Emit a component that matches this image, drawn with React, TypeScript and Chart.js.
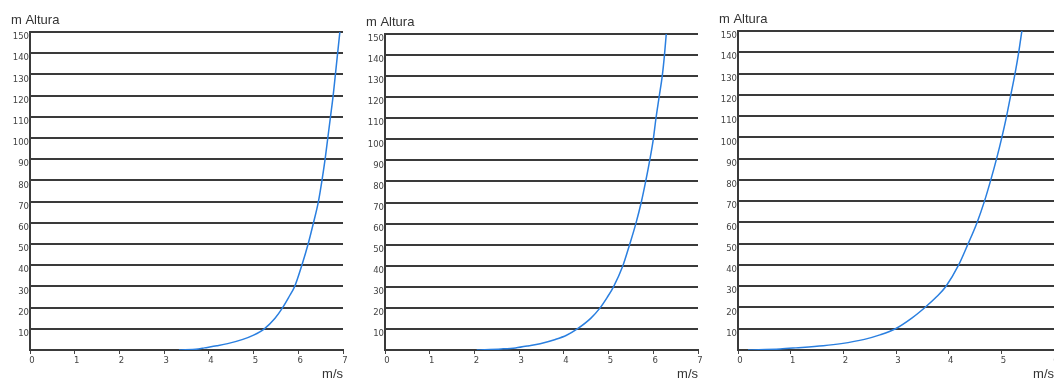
import React, { useEffect, useRef } from "react";
import { Chart, registerables } from "chart.js";

Chart.register(...registerables);

// Heights (m) shared by the three profiles
const heights = [0, 0.5, 1, 2, 3, 5, 7, 10, 15, 20, 25, 30, 40, 50, 60, 70, 80, 90, 100, 110, 120, 130, 140, 150];
// Wind speed (m/s) at each height, per panel
const speedsA = [3.33, 3.76, 3.9, 4.18, 4.42, 4.76, 5.0, 5.24, 5.48, 5.65, 5.79, 5.92, 6.08, 6.22, 6.34, 6.45, 6.53, 6.6, 6.66, 6.72, 6.78, 6.83, 6.88, 6.93];
const speedsB = [2.05, 2.6, 2.92, 3.22, 3.47, 3.81, 4.06, 4.3, 4.6, 4.81, 4.97, 5.11, 5.32, 5.47, 5.61, 5.73, 5.83, 5.92, 6.0, 6.06, 6.13, 6.2, 6.25, 6.29];
const speedsC = [0.19, 0.8, 1.1, 1.62, 1.96, 2.4, 2.68, 2.99, 3.3, 3.55, 3.77, 3.95, 4.19, 4.37, 4.54, 4.68, 4.8, 4.91, 5.01, 5.1, 5.18, 5.26, 5.33, 5.39];

const yTitle = "m Altura";
const xTitle = "m/s";
const yMax = 150;
const yStep = 10;

const PAGE_W = 1054;
const PAGE_H = 379;
const Y_AXIS_W = 30;
const PAD_R = 12;

type PanelProps = {
  left: number;
  right: number;
  top: number;
  bottom: number;
  xMax: number;
  speeds: number[];
};

const textPlugin = {
  id: "panelTexts",
  afterDraw(chart: any) {
    const { ctx, chartArea } = chart;
    ctx.save();
    ctx.fillStyle = "#333";
    ctx.font = "13px 'Liberation Sans', Arial, sans-serif";
    ctx.textBaseline = "middle";
    ctx.textAlign = "left";
    ctx.fillText(yTitle, chartArea.left - 19, chartArea.top - 12);
    ctx.textAlign = "right";
    ctx.fillText(xTitle, chartArea.right, 374);
    ctx.restore();
  },
};

const tickFont = { family: "'DejaVu Sans', 'Liberation Sans', sans-serif", size: 8.5 };

function Panel({ left, right, top, bottom, xMax, speeds }: PanelProps) {
  const ref = useRef<HTMLCanvasElement | null>(null);
  const cw = right - left + Y_AXIS_W + PAD_R;

  useEffect(() => {
    if (!ref.current) return;
    const points = heights.map((h, i) => ({ x: speeds[i], y: h }));
    const chart = new Chart(ref.current, {
      type: "line",
      data: {
        datasets: [
          {
            data: points,
            borderColor: "#2a7fe0",
            borderWidth: 1.5,
            pointRadius: 0,
            cubicInterpolationMode: "monotone",
            fill: false,
          },
        ],
      },
      options: {
        responsive: false,
        animation: false,
        devicePixelRatio: 1,
        layout: { padding: { top, left: 0, right: PAD_R, bottom: 0 } },
        plugins: {
          legend: { display: false },
          tooltip: { enabled: false },
          title: { display: false },
        },
        scales: {
          x: {
            type: "linear",
            min: 0,
            max: xMax,
            z: 1,
            afterFit: (s: any) => {
              s.height = PAGE_H - bottom;
            },
            ticks: {
              stepSize: 1,
              color: "#444",
              font: tickFont,
              padding: 2,
              labelOffset: 2,
              maxRotation: 0,
              autoSkip: false,
            },
            grid: {
              drawOnChartArea: false,
              drawTicks: true,
              tickLength: 4,
              color: "#444",
              lineWidth: 1,
            },
            border: { display: true, color: "#3a3a3a", width: 2 },
          },
          y: {
            type: "linear",
            min: 0,
            max: yMax,
            afterFit: (s: any) => {
              s.width = Y_AXIS_W;
            },
            ticks: {
              stepSize: yStep,
              color: "#444",
              font: tickFont,
              padding: 1,
              labelOffset: 5,
              callback: (v: any) => (v === 0 ? "" : String(v)),
            },
            grid: {
              color: "#3a3a3a",
              lineWidth: 2,
              drawTicks: false,
            },
            border: { display: true, color: "#3a3a3a", width: 2 },
          },
        },
      } as any,
      plugins: [textPlugin],
    });
    return () => chart.destroy();
  }, [left, right, top, bottom, xMax, speeds]);

  return (
    <canvas
      ref={ref}
      width={cw}
      height={PAGE_H}
      style={{ position: "absolute", left: left - Y_AXIS_W, top: 0, width: cw, height: PAGE_H }}
    />
  );
}

export default function App() {
  return (
    <div
      style={{
        position: "fixed",
        left: 0,
        top: 0,
        width: PAGE_W,
        height: PAGE_H,
        overflow: "hidden",
        background: "#fff",
      }}
    >
      <Panel left={30} right={343} top={32} bottom={350} xMax={7} speeds={speedsA} />
      <Panel left={385} right={698} top={34} bottom={350} xMax={7} speeds={speedsB} />
      <Panel left={738} right={1054} top={31} bottom={350} xMax={6} speeds={speedsC} />
    </div>
  );
}
